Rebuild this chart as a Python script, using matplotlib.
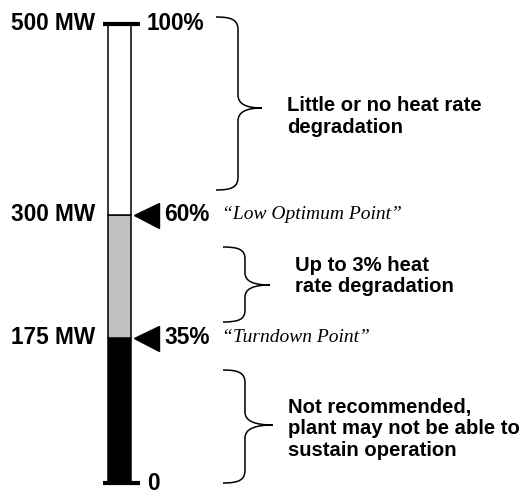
import numpy as np
import matplotlib
matplotlib.use("Agg")
import matplotlib.pyplot as plt
from matplotlib.path import Path
from matplotlib.patches import PathPatch

# ---------------- data ----------------
levels_pct = [0, 35, 60, 100]
levels_mw = [0, 175, 300, 500]
mw_labels = ["", "175 MW", "300 MW", "500 MW"]
pct_labels = ["0", "35%", "60%", "100%"]
segment_colors = ["#000000", "#c0c0c0", "#ffffff"]   # 0-35, 35-60, 60-100
marked_levels = [35, 60]
point_names = ["\u201cTurndown Point\u201d", "\u201cLow Optimum Point\u201d"]
range_texts = [
    "Little or no heat rate\ndegradation",
    "Up to 3% heat\nrate degradation",
    "Not recommended,\nplant may not be able to\nsustain operation",
]

# ---------------- layout ----------------
W, H = 521, 492
fig = plt.figure(figsize=(W / 100, H / 100), dpi=100)
SANS = "Liberation Sans"
SERIF = "Liberation Serif"

# schematic (not-to-scale) vertical spacing of the level marks
anchor_in = [0, 35, 60, 100]
anchor_out = [0, 145, 268, 459]
fwd = lambda v: np.interp(v, anchor_in, anchor_out)
inv = lambda v: np.interp(v, anchor_out, anchor_in)

ax = fig.add_axes([0, 9 / H, 1, (468 - 9) / H])
ax.set_yscale("function", functions=(fwd, inv))
ax.set_xlim(0, W)
ax.set_ylim(0, 100)
ax.axis("off")

bar_x, bar_w = 119.5, 23
for lo, hi, c in zip(levels_pct[:-1], levels_pct[1:], segment_colors):
    ax.bar(bar_x, hi - lo, bottom=lo, width=bar_w, color=c,
           edgecolor="black", linewidth=1.1, clip_on=False, zorder=2)

# end caps
for lv in (levels_pct[0], levels_pct[-1]):
    ax.hlines(lv, 103, 140, color="black", linewidth=3.0, clip_on=False, zorder=3)

LABEL_FS = 16.3
# MW labels (left)
for lv, lab in zip(levels_pct, mw_labels):
    if lab:
        ax.text(95, lv, lab, ha="right", va="center", fontsize=LABEL_FS,
                fontweight="bold", family=SANS)

# percent labels and arrows
for lv, lab in zip(levels_pct, pct_labels):
    if lv in marked_levels:
        ax.plot([145.5], [lv], marker="<", ms=18, color="black",
                clip_on=False, zorder=4)
        ax.text(164, lv, lab, ha="left", va="center", fontsize=LABEL_FS,
                fontweight="bold", family=SANS)
    else:
        ax.text(147, lv, lab, ha="left", va="center", fontsize=LABEL_FS,
                fontweight="bold", family=SANS)

for lv, name in zip(marked_levels, point_names):
    ax.text(222, lv, name, ha="left", va="center", fontsize=14,
            style="italic", family=SERIF)

# ---------------- braces and range descriptions ----------------
ov = fig.add_axes([0, 0, 1, 1])
ov.set_xlim(0, W)
ov.set_ylim(H, 0)
ov.axis("off")
ov.patch.set_alpha(0)


def brace(x0, x1, x2, yt, ym, yb, r):
    verts = [
        (x0, yt),
        (x0 + (x1 - x0) * 0.75, yt), (x1, yt + r * 0.25), (x1, yt + r),
        (x1, ym - r),
        (x1, ym - r * 0.3), (x1 + (x2 - x1) * 0.35, ym), (x2, ym),
        (x1 + (x2 - x1) * 0.35, ym), (x1, ym + r * 0.3), (x1, ym + r),
        (x1, yb - r),
        (x1, yb - r * 0.25), (x0 + (x1 - x0) * 0.75, yb), (x0, yb),
    ]
    codes = [Path.MOVETO,
             Path.CURVE4, Path.CURVE4, Path.CURVE4,
             Path.LINETO,
             Path.CURVE4, Path.CURVE4, Path.CURVE4,
             Path.CURVE4, Path.CURVE4, Path.CURVE4,
             Path.LINETO,
             Path.CURVE4, Path.CURVE4, Path.CURVE4]
    ov.add_patch(PathPatch(Path(verts, codes), fill=False,
                           edgecolor="black", linewidth=1.1))


brace_geom = [
    (216, 238, 262, 17, 108, 190, 13),
    (223, 245, 270, 247, 285, 322, 12),
    (223, 245, 273, 370, 425, 483, 13),
]
text_pos = [(287, 116.5), (295, 276), (288, 429)]

for g in brace_geom:
    brace(*g)
for (tx, ty), t in zip(text_pos, range_texts):
    ov.text(tx, ty, t, ha="left", va="center", fontsize=14.6,
            fontweight="bold", family=SANS, linespacing=1.17)

fig.savefig("out.png", dpi=100)
